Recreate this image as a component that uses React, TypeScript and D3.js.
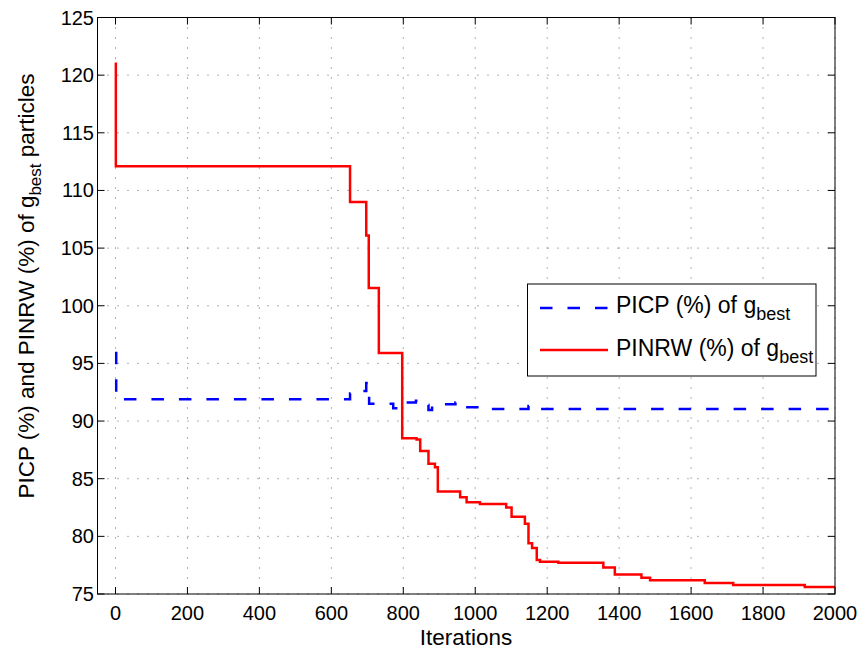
import React from "react";
import * as d3 from "d3";

const xTicks = [0, 200, 400, 600, 800, 1000, 1200, 1400, 1600, 1800, 2000];
const yTicks = [75, 80, 85, 90, 95, 100, 105, 110, 115, 120, 125];

const picpIter = [2, 2, 652, 686, 697, 705, 772, 790, 835, 850, 870, 880, 945, 958, 1013, 1148, 1158, 2000];
const picpValue = [96.0, 91.9, 92.4, 92.6, 93.3, 91.5, 91.1, 91.6, 91.75, 91.4, 90.95, 91.45, 91.6, 91.2, 91.05, 91.3, 91.05, 91.05];

const pinrwIter = [1, 1, 652, 697, 704, 732, 797, 837, 847, 870, 888, 896, 958, 976, 1013, 1086, 1101, 1138, 1148, 1158, 1171, 1180, 1231, 1356, 1388, 1462, 1486, 1638, 1717, 1916, 2000];
const pinrwValue = [121.1, 112.1, 109.0, 106.1, 101.55, 95.9, 88.5, 88.4, 87.4, 86.3, 86.0, 83.9, 83.4, 82.95, 82.8, 82.5, 81.7, 81.1, 79.4, 79.0, 77.95, 77.8, 77.7, 77.3, 76.7, 76.4, 76.2, 75.95, 75.78, 75.6, 75.6];

const W = 865, H = 653;
const left = 97.5, right = 835, top = 17.5, bottom = 594;
const font = "'Liberation Sans', Arial, Helvetica, sans-serif";

export default function App() {
  const x = d3.scaleLinear().domain([-50, 2000]).range([left, right]);
  const y = d3.scaleLinear().domain([75, 125]).range([bottom, top]);
  const line = d3.line<[number, number]>().x(d => x(d[0])).y(d => y(d[1])).curve(d3.curveStepAfter);
  const picp = line(picpIter.map((it, i) => [it, picpValue[i]] as [number, number])) || "";
  const pinrw = line(pinrwIter.map((it, i) => [it, pinrwValue[i]] as [number, number])) || "";
  const tl = 7;
  return (
    <svg width={W} height={H} style={{ position: "absolute", left: 0, top: 0, background: "#fff" }} fontFamily={font}>
      <rect x={0} y={0} width={W} height={H} fill="#fff" />
      {/* grid */}
      {xTicks.map(t => (
        <line key={"gx" + t} x1={x(t)} x2={x(t)} y1={top} y2={bottom} stroke="#000" strokeWidth={1} strokeDasharray="1,9" opacity={0.6} />
      ))}
      {yTicks.map(t => (
        <line key={"gy" + t} x1={left} x2={right} y1={y(t)} y2={y(t)} stroke="#000" strokeWidth={1} strokeDasharray="1,9" opacity={0.6} />
      ))}
      {/* ticks */}
      {xTicks.map(t => (
        <g key={"tx" + t}>
          <line x1={x(t)} x2={x(t)} y1={bottom} y2={bottom - tl} stroke="#000" />
          <line x1={x(t)} x2={x(t)} y1={top} y2={top + tl} stroke="#000" />
          <text x={x(t)} y={620} fontSize={20} textAnchor="middle" fill="#000">{t}</text>
        </g>
      ))}
      {yTicks.map(t => (
        <g key={"ty" + t}>
          <line x1={left} x2={left + tl} y1={y(t)} y2={y(t)} stroke="#000" />
          <line x1={right} x2={right - tl} y1={y(t)} y2={y(t)} stroke="#000" />
          <text x={94} y={y(t) + 7} fontSize={20} textAnchor="end" fill="#000">{t}</text>
        </g>
      ))}
      {/* series */}
      <path d={picp} fill="none" stroke="#0000ff" strokeWidth={2.5} strokeDasharray="12.5,15" />
      <path d={pinrw} fill="none" stroke="#ff0000" strokeWidth={2.5} />
      {/* box */}
      <rect x={left} y={top} width={right - left} height={bottom - top} fill="none" stroke="#000" strokeWidth={1} />
      {/* labels */}
      <text x={466} y={645} fontSize={22.5} textAnchor="middle" fill="#000">Iterations</text>
      <text transform={`translate(34,286) rotate(-90)`} fontSize={22.5} textAnchor="middle" fill="#000">
        PICP (%) and PINRW (%) of g<tspan dy={7} fontSize={17}>best</tspan><tspan dy={-7}> particles</tspan>
      </text>
      {/* legend */}
      <rect x={527.5} y={284} width={288.5} height={92} fill="#fff" stroke="#000" strokeWidth={1} />
      <line x1={540} x2={608} y1={308} y2={308} stroke="#0000ff" strokeWidth={2.5} strokeDasharray="12.5,15" />
      <line x1={540} x2={608} y1={350} y2={350} stroke="#ff0000" strokeWidth={2.5} />
      <text x={616} y={313} fontSize={23} fill="#000">PICP (%) of g<tspan dy={7} fontSize={18}>best</tspan></text>
      <text x={616} y={356} fontSize={23} fill="#000">PINRW (%) of g<tspan dy={7} fontSize={18}>best</tspan></text>
    </svg>
  );
}
